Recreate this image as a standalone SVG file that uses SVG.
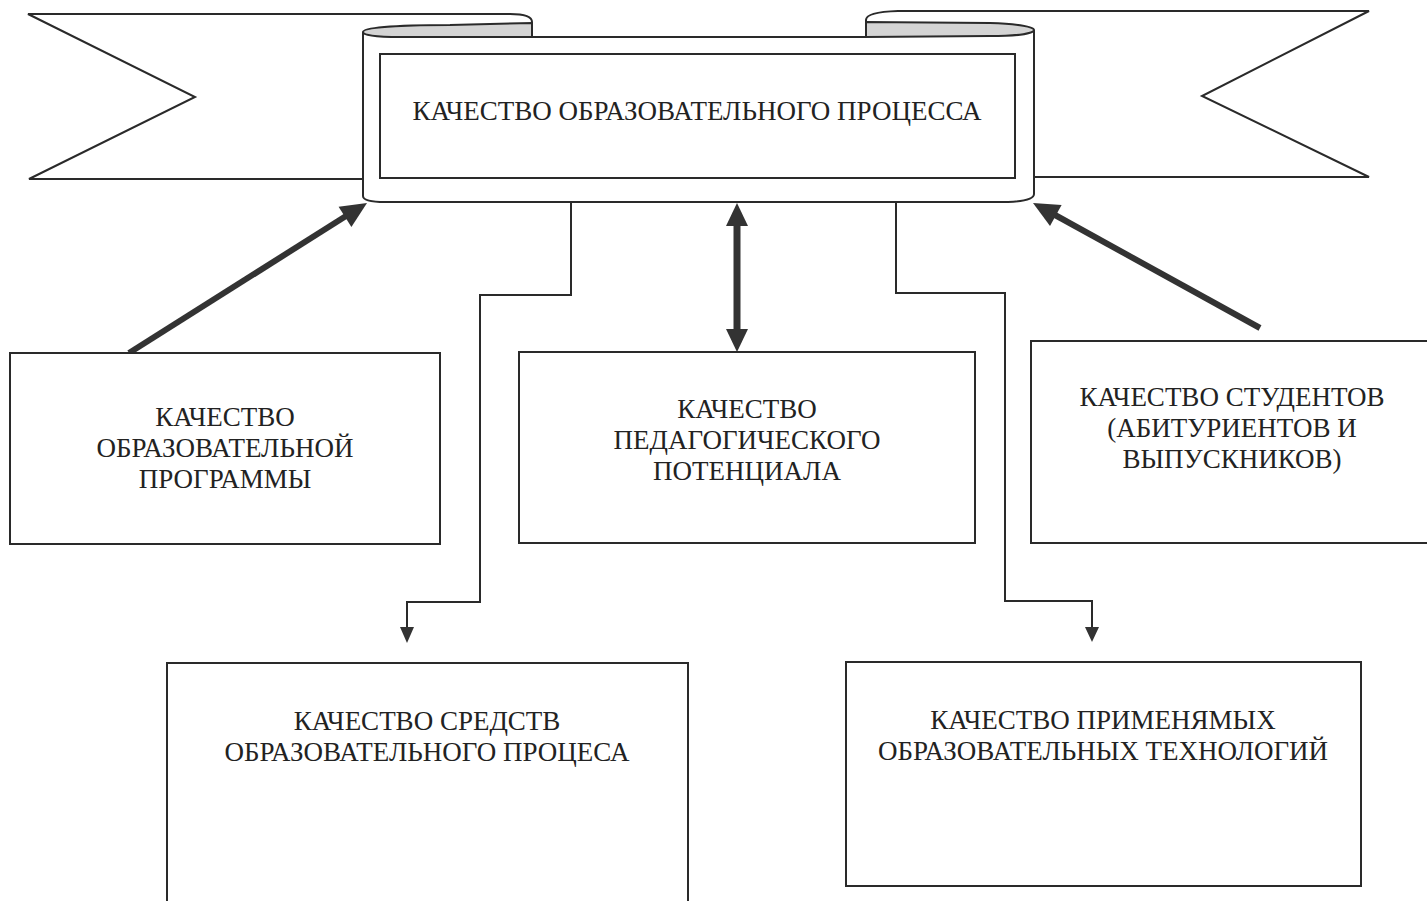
<svg xmlns="http://www.w3.org/2000/svg" width="1427" height="901" viewBox="0 0 1427 901">
<style>
.ln{fill:none;stroke:#2a2a2a;stroke-width:2}
.wh{fill:#ffffff;stroke:#2a2a2a;stroke-width:2}
.sh{fill:#d4d4d4;stroke:#2a2a2a;stroke-width:2}
.box{fill:#ffffff;stroke:#2a2a2a;stroke-width:2}
.thick{fill:none;stroke:#333333;stroke-width:6}
.head{fill:#333333;stroke:none}
.t{font-family:"Liberation Serif","Times New Roman",serif;font-size:27px;fill:#222222;text-anchor:middle}
</style>
<rect x="0" y="0" width="1427" height="901" fill="#ffffff"/>
<g id="banner">
<path class="wh" d="M363,179 L29,179 L195,97 L28,14 L510,14 Q532,14 532,22 L532,37"/>
<path class="wh" d="M1034,177 L1369,177 L1202,96 L1369,11 L898,11 Q866,12 866,20 L866,37"/>
<path d="M363,37 L1034,37 L1034,194 Q1034,200 1008,201 L385,202 Q363,202 363,196 Z" fill="#ffffff"/>
<path class="sh" d="M363,32 C363,26 420,25 450,25 L532,23 L532,37 L400,37 C375,37 363,35 363,32 Z"/>
<path class="sh" d="M866,22 L990,23 C1020,24 1034,27 1034,30 C1034,33 1020,36 990,36 L866,37 Z"/>
<path class="ln" d="M363,32 L363,196 Q363,202 385,202 L1008,202 Q1034,201 1034,194 L1034,30"/>
<path class="ln" d="M532,37 L866,37"/>
<rect class="box" x="380" y="54" width="635" height="124"/>
<text class="t" x="697" y="120">КАЧЕСТВО ОБРАЗОВАТЕЛЬНОГО ПРОЦЕССА</text>
</g>
<g id="connectors">
<path class="ln" d="M571,202 V295 H480 V602 H407 V628"/>
<polygon class="head" points="400,627 414,627 407,643"/>
<path class="ln" d="M896,202 V293 H1005 V601 H1092 V628"/>
<polygon class="head" points="1085,627 1099,627 1092,642"/>
<line class="thick" x1="129" y1="353" x2="346" y2="216"/>
<polygon class="head" points="367,203 351.4,227.1 338.6,206.7"/>
<line class="thick" x1="1260" y1="328" x2="1055" y2="215"/>
<polygon class="head" points="1033,203 1061.6,205 1050,226"/>
<line class="thick" x1="737" y1="224" x2="737" y2="331" style="stroke-width:7"/>
<polygon class="head" points="737,203 726,226 748,226"/>
<polygon class="head" points="737,352 726,329 748,329"/>
</g>
<g id="node-program">
<rect class="box" x="10" y="353" width="430" height="191"/>
<text class="t" x="225" y="426">КАЧЕСТВО</text>
<text class="t" x="225" y="457">ОБРАЗОВАТЕЛЬНОЙ</text>
<text class="t" x="225" y="488">ПРОГРАММЫ</text>
</g>
<g id="node-pedagog">
<rect class="box" x="519" y="352" width="456" height="191"/>
<text class="t" x="747" y="418">КАЧЕСТВО</text>
<text class="t" x="747" y="449">ПЕДАГОГИЧЕСКОГО</text>
<text class="t" x="747" y="480">ПОТЕНЦИАЛА</text>
</g>
<g id="node-students">
<rect class="box" x="1031" y="341" width="400" height="202"/>
<text class="t" x="1232" y="406">КАЧЕСТВО СТУДЕНТОВ</text>
<text class="t" x="1232" y="437">(АБИТУРИЕНТОВ И</text>
<text class="t" x="1232" y="468">ВЫПУСКНИКОВ)</text>
</g>
<g id="node-means">
<rect class="box" x="167" y="663" width="521" height="250"/>
<text class="t" x="427" y="730">КАЧЕСТВО СРЕДСТВ</text>
<text class="t" x="427" y="761">ОБРАЗОВАТЕЛЬНОГО ПРОЦЕСА</text>
</g>
<g id="node-tech">
<rect class="box" x="846" y="662" width="515" height="224"/>
<text class="t" x="1103" y="729">КАЧЕСТВО ПРИМЕНЯМЫХ</text>
<text class="t" x="1103" y="760">ОБРАЗОВАТЕЛЬНЫХ ТЕХНОЛОГИЙ</text>
</g>
</svg>
